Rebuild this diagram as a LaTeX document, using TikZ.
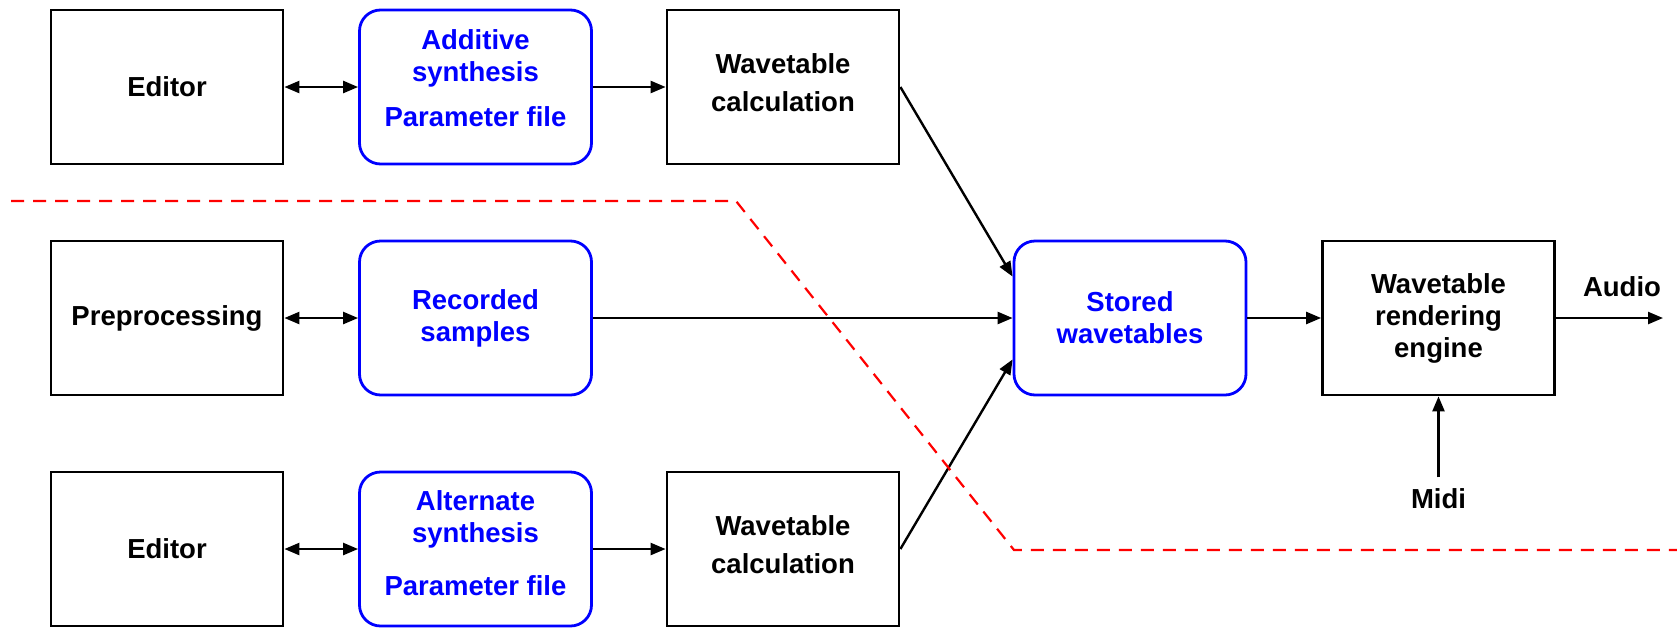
\documentclass[tikz,border=0pt]{standalone}
\usepackage{fontspec}
\setmainfont{Liberation Sans}
\usetikzlibrary{arrows.meta,calc}

\begin{document}
\begin{tikzpicture}[x=1pt,y=-1pt,
  every node/.style={font=\fontsize{27.5}{32}\selectfont\bfseries},
  blockbox/.style={draw=black, line width=2.8pt, minimum width=232pt,
    minimum height=154pt, inner sep=0pt},
  databox/.style={draw=blue, line width=2.8pt, rounded corners=21pt,
    minimum width=232pt, minimum height=154pt, inner sep=0pt},
  boxtext/.style={align=center, inner sep=0pt},
  datatext/.style={boxtext, text=blue},
  flow/.style={line width=2.4pt, -{Triangle[length=15pt,width=12pt]}},
  biflow/.style={line width=2.4pt,
    {Triangle[length=15pt,width=12pt]}-{Triangle[length=15pt,width=12pt]}},
  border/.style={red, line width=2.2pt, dash pattern=on 13pt off 9pt}]

\useasboundingbox (0,0) rectangle (1677,627);

% top row: additive synthesis path
\node[blockbox] (ed1) at (167,87) {};
\node[boxtext] (ed1t) at (ed1.center) {Editor};
\node[databox] (add) at (475.5,87) {};
\node[datatext] (addt) at ($(add.center)+(0,-9)$) {Additive\\synthesis\\[13pt]Parameter file};
\node[blockbox] (calc1) at (783,87) {};
\node[boxtext] (calc1t) at ($(calc1.center)+(0,-4.5)$) {Wavetable\\[6pt]calculation};

% middle row: recorded samples and the rendering chain
\node[blockbox] (pre) at (167,318) {};
\node[boxtext] (pret) at (pre.center) {Preprocessing};
\node[databox] (rec) at (475.5,318) {};
\node[datatext] (rect) at (rec.center) {Recorded\\samples};
\node[databox] (store) at (1130,318) {};
\node[datatext] (storet) at (store.center) {Stored\\wavetables};
\node[blockbox] (rend) at (1438.5,318) {};
\node[boxtext] (rendt) at (rend.center) {Wavetable\\rendering\\engine};

% bottom row: alternate synthesis path
\node[blockbox] (ed3) at (167,549) {};
\node[boxtext] (ed3t) at (ed3.center) {Editor};
\node[databox] (alt) at (475.5,549) {};
\node[datatext] (altt) at ($(alt.center)+(0,-6)$) {Alternate\\synthesis\\[21pt]Parameter file};
\node[blockbox] (calc3) at (783,549) {};
\node[boxtext] (calc3t) at ($(calc3.center)+(0,-4.5)$) {Wavetable\\[6pt]calculation};

% external labels
\node (audio) at (1622,287) {Audio};
\coordinate (audioout) at (1663,318);
\node (midi) at (1438.5,499) {Midi};

% connectors
\draw[biflow] (ed1.east) -- (add.west);
\draw[flow] (add.east) -- (calc1.west);
\draw[flow] (calc1.east) -- ($(store.north west)+(0,37)$);
\draw[biflow] (pre.east) -- (rec.west);
\draw[flow] (rec.east) -- (store.west);
\draw[flow] (store.east) -- (rend.west);
\draw[flow] (rend.east) -- (audioout);
\draw[flow, shorten <=8pt] (midi.north) -- (rend.south);
\draw[biflow] (ed3.east) -- (alt.west);
\draw[flow] (alt.east) -- (calc3.west);
\draw[flow] (calc3.east) -- ($(store.south west)+(0,-37)$);

% dashed boundary
\draw[border] (11,201) -- (736,201) -- (1014,550) -- (1677,550);
\end{tikzpicture}
\end{document}
